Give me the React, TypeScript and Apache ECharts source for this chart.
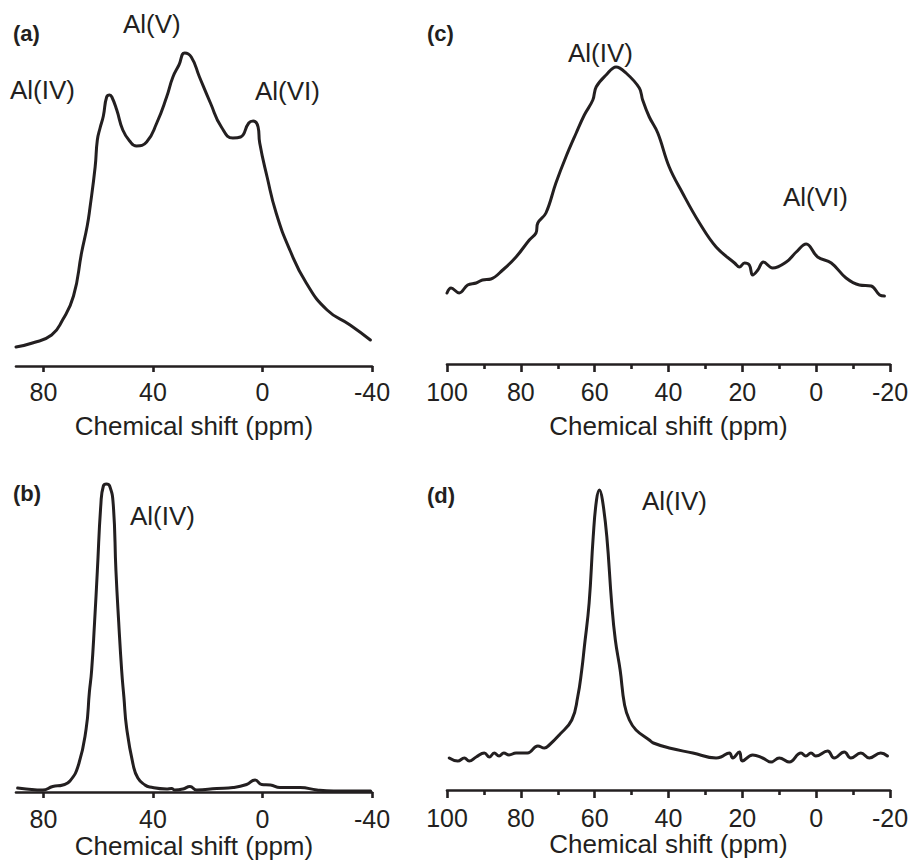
import React, { useEffect, useRef } from "react";
import * as echarts from "echarts";

// ---- data (ppm, intensity in arbitrary units) ----
const spectrumA: [number, number][] = [
  [90, 19], [84, 23], [77, 31], [73, 46], [69, 70], [66, 114], [64, 140], [63, 158],
  [61.1, 199], [60.3, 226], [59.3, 238], [58.1, 250], [56.9, 269], [55.8, 271], [55, 269],
  [53.2, 256], [51, 236], [48.5, 225], [46, 220], [42.3, 224], [38.6, 243], [35, 269],
  [32.7, 289], [30.5, 301], [28.4, 313], [26, 309], [23, 289], [19, 263], [15, 239],
  [10.8, 228], [8, 229], [5, 243], [3.4, 245], [1.6, 239], [1, 223], [-1.7, 189],
  [-5, 153], [-10, 116], [-16, 83], [-23.6, 56], [-32, 41], [-39.4, 26],
];

const spectrumB: [number, number][] = [
  [89.4, 4], [86.3, 3], [80.2, 2], [76.6, 5.5], [72.9, 7], [70.3, 11], [67.2, 27],
  [64.4, 63], [63.2, 100], [62.4, 121], [61.3, 170], [60.3, 221], [59, 288], [58.1, 306],
  [57, 308], [55.8, 306], [54.5, 288], [53.5, 221], [52.5, 170], [51.4, 121], [50.6, 95],
  [49.6, 64], [47.2, 27], [45.5, 14], [42.9, 7], [41.2, 5], [35, 3], [33.2, 3.5], [32, 2],
  [29, 3], [26.5, 5.5], [24, 2], [16.7, 3.5], [10.7, 4.5], [5.8, 7.5], [2.7, 12],
  [0.3, 7.5], [-2.9, 7], [-6.4, 4.5], [-13.8, 4.5], [-19.9, 2], [-26, 1], [-39.5, 1],
];

const spectrumC: [number, number][] = [
  [100, 71], [98.9, 76], [96.7, 71], [94.4, 79], [92.1, 81], [90.4, 84], [88.1, 85],
  [84.9, 94], [81.3, 107], [77.7, 124], [75.9, 131], [75.4, 141], [73.2, 151], [70.5, 181],
  [67.8, 207], [65, 231], [62.8, 249], [60.5, 264], [59.6, 277], [56.9, 289], [54.2, 297],
  [51.5, 291], [47.9, 276], [47, 264], [45.2, 247], [42.9, 231], [39.8, 197], [36.2, 171],
  [31.6, 141], [27.1, 117], [22.1, 101], [20.8, 97], [19.4, 101], [18.1, 99], [17.2, 89],
  [15.8, 94], [14.3, 102], [11.8, 96], [8.1, 102], [5.4, 112], [2.7, 120], [-0.4, 107],
  [-4.1, 101], [-8.1, 86], [-11.7, 79], [-14.9, 78], [-17.2, 69], [-18.5, 68],
];

const spectrumD: [number, number][] = [
  [99.4, 32], [97.1, 29], [95.3, 32], [94, 29], [92.1, 33], [89.9, 37], [88.5, 33],
  [87.2, 37], [85.9, 34], [84.6, 37], [83.2, 35], [81.3, 37], [78.2, 37], [75.4, 44],
  [73.6, 42], [72.3, 45], [69.6, 55], [66.2, 70], [64.6, 93], [63.5, 120], [62.8, 143],
  [61.5, 187], [60.4, 253], [59.5, 290], [58.7, 300], [57.9, 290], [56.7, 253], [55.4, 187],
  [54.4, 150], [53.1, 120], [51.9, 85], [50.6, 70], [48.8, 60], [45.2, 50], [44.1, 47],
  [39.8, 42], [33.4, 37], [27.1, 32], [25.8, 33], [23.5, 37], [22.6, 32], [20.8, 38],
  [20, 29], [17.2, 35], [14.5, 32], [12.2, 28], [10, 32], [7.3, 28], [4.1, 37], [2.8, 34],
  [1.4, 37], [0.1, 34], [-3.1, 39], [-4.9, 32], [-7.6, 38], [-9.4, 32], [-12.1, 37],
  [-14.4, 32], [-17.5, 37], [-19.3, 34],
];

const ticksAB = [-40, 0, 40, 80];
const axisTitle = "Chemical shift (ppm)";
const panelLetters = ["(a)", "(b)", "(c)", "(d)"];
const peakLabelsA = ["Al(IV)", "Al(V)", "Al(VI)"];
const peakLabelsB = ["Al(IV)"];
const peakLabelsC = ["Al(IV)", "Al(VI)"];
const peakLabelsD = ["Al(IV)"];

const INK = "#231f20";
const FONT = "'Liberation Sans', Arial, Helvetica, sans-serif";

function makeXAxis(
  gridIndex: number,
  min: number,
  max: number,
  interval: number,
  labelMargin: number,
  nameGap: number,
  custom: number[] | null,
  minor: boolean
) {
  const axis: any = {
    gridIndex,
    type: "value",
    inverse: true,
    min,
    max,
    interval,
    axisLine: { show: true, lineStyle: { color: INK, width: 2.6 } },
    axisTick: {
      show: true,
      inside: false,
      length: minor ? 8 : 6,
      lineStyle: { color: INK, width: 2.6 },
    },
    minorTick: {
      show: minor,
      splitNumber: 2,
      length: 5,
      lineStyle: { color: INK, width: 2.6 },
    },
    splitLine: { show: false },
    minorSplitLine: { show: false },
    axisLabel: {
      show: true,
      color: INK,
      fontSize: 25,
      fontFamily: FONT,
      margin: labelMargin,
      showMinLabel: true,
      showMaxLabel: true,
    },
    name: axisTitle,
    nameLocation: "middle",
    nameGap,
    nameTextStyle: { color: INK, fontSize: 26, fontFamily: FONT },
  };
  if (custom) {
    axis.axisTick.customValues = custom;
    axis.axisLabel.customValues = custom;
  }
  return axis;
}

function makeYAxis(gridIndex: number) {
  return { gridIndex, type: "value", min: 0, max: 330, show: false };
}

function makeSeries(idx: number, data: [number, number][], smooth: number | boolean) {
  return {
    type: "line",
    xAxisIndex: idx,
    yAxisIndex: idx,
    data,
    showSymbol: false,
    symbol: "none",
    smooth,
    lineStyle: { color: INK, width: 3, cap: "round", join: "round" },
    emphasis: { disabled: true },
    clip: false,
  };
}

function txt(text: string, x: number, y: number, bold: boolean) {
  return {
    type: "text",
    x,
    y,
    style: {
      text,
      fill: INK,
      fontSize: bold ? 22 : 26,
      fontWeight: bold ? "bold" : "normal",
      fontFamily: FONT,
      align: "left",
      verticalAlign: "middle",
    },
  };
}

export default function App() {
  const ref = useRef<HTMLDivElement>(null);

  useEffect(() => {
    if (!ref.current) return;
    const chart = echarts.init(ref.current, null, { renderer: "svg" });
    const option: any = {
      animation: false,
      backgroundColor: "#ffffff",
      grid: [
        { left: 16, top: 36, width: 356, height: 330 },
        { left: 16, top: 462, width: 356, height: 330 },
        { left: 447, top: 34, width: 443, height: 330 },
        { left: 447, top: 460, width: 443, height: 330 },
      ],
      xAxis: [
        makeXAxis(0, -40, 90, 40, 13, 47, ticksAB, false),
        makeXAxis(1, -40, 90, 40, 14, 41, ticksAB, false),
        makeXAxis(2, -20, 100, 20, 15, 49, null, true),
        makeXAxis(3, -20, 100, 20, 15, 40, null, true),
      ],
      yAxis: [makeYAxis(0), makeYAxis(1), makeYAxis(2), makeYAxis(3)],
      series: [
        makeSeries(0, spectrumA, 0.5),
        makeSeries(1, spectrumB, 0.5),
        makeSeries(2, spectrumC, 0.4),
        makeSeries(3, spectrumD, 0.45),
      ],
      graphic: [
        txt(panelLetters[0], 13, 33, true),
        txt(panelLetters[1], 13, 493, true),
        txt(panelLetters[2], 427, 33, true),
        txt(panelLetters[3], 427, 495, true),
        txt(peakLabelsA[0], 10, 90, false),
        txt(peakLabelsA[1], 123, 24, false),
        txt(peakLabelsA[2], 255, 91, false),
        txt(peakLabelsB[0], 130, 516, false),
        txt(peakLabelsC[0], 568, 53, false),
        txt(peakLabelsC[1], 783, 197, false),
        txt(peakLabelsD[0], 642, 501, false),
      ],
    };
    chart.setOption(option);
    return () => chart.dispose();
  }, []);

  return (
    <div
      ref={ref}
      style={{ position: "absolute", left: 0, top: 0, width: 912, height: 864 }}
    />
  );
}
